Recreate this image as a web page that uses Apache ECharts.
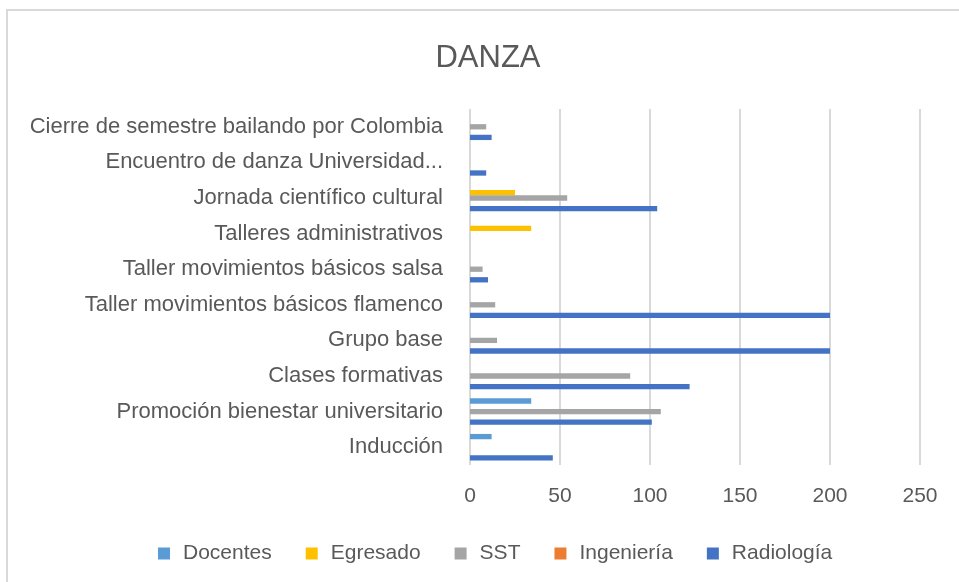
<!DOCTYPE html>
<html>
<head>
<meta charset="utf-8">
<script src="https://cdn.jsdelivr.net/npm/echarts@6/dist/echarts.min.js"></script>
<style>
  html, body { margin: 0; padding: 0; background: #fff; }
  #chart { width: 959px; height: 582px; }
</style>
</head>
<body>
<div id="chart"></div>
<script>
// categorias, de abajo hacia arriba
const categories = [
  'Inducción',
  'Promoción bienestar universitario',
  'Clases formativas',
  'Grupo base',
  'Taller movimientos básicos flamenco',
  'Taller movimientos básicos salsa',
  'Talleres administrativos',
  'Jornada científico cultural',
  'Encuentro de danza Universidad...',
  'Cierre de semestre bailando por Colombia'
];
const docentes   = [12, 34, null, null, null, null, null, null, null, null];
const egresado   = [null, null, null, null, null, null, 34, 25, null, null];
const sst        = [null, 106, 89, 15, 14, 7, null, 54, null, 9];
const ingenieria = [null, null, null, null, null, null, null, null, null, null];
const radiologia = [46, 101, 122, 200, 200, 10, null, 104, 9, 12];
const xTicks = [0, 50, 100, 150, 200, 250];

const legendOrder = ['Docentes', 'Egresado', 'SST', 'Ingeniería', 'Radiología'];
const textColor = '#595959';
const font = 'Liberation Sans';

function bar(name, data, color) {
  return {
    name: name,
    type: 'bar',
    data: data,
    barWidth: 5.3,
    barGap: '0%',
    itemStyle: { color: color },
    emphasis: { disabled: true }
  };
}

const chart = echarts.init(document.getElementById('chart'));
chart.setOption({
  animation: false,
  textStyle: { fontFamily: font },
  title: {
    text: 'DANZA',
    left: 483,
    textAlign: 'center',
    top: 38,
    textStyle: { color: textColor, fontSize: 31, fontWeight: 'normal', fontFamily: font }
  },
  // borde del área del gráfico (solo arriba e izquierda se ven)
  graphic: [{
    type: 'polyline',
    shape: { points: [[7, 600], [7, 10], [980, 10]] },
    style: { fill: 'none', stroke: '#d9d9d9', lineWidth: 2 },
    silent: true
  }],
  legend: {
    data: legendOrder,
    top: 538,
    left: 153,
    itemWidth: 12,
    itemHeight: 12,
    itemGap: 34,
    icon: 'rect',
    textStyle: { color: textColor, fontSize: 21, fontFamily: font, padding: [0, 0, 0, 8] }
  },
  grid: { left: 470, right: 39, top: 109, bottom: 117 },
  xAxis: {
    type: 'value',
    min: 0,
    max: 250,
    interval: 50,
    axisLine: { show: false },
    axisTick: { show: false },
    splitLine: { lineStyle: { color: '#d9d9d9', width: 2 } },
    axisLabel: {
      margin: 21,
      color: textColor,
      fontSize: 21,
      fontFamily: font,
      formatter: v => xTicks.includes(v) ? String(v) : ''
    }
  },
  yAxis: {
    type: 'category',
    data: categories,
    axisLine: { show: false },
    axisTick: { show: false },
    axisLabel: { margin: 27, color: textColor, fontSize: 22, fontFamily: font }
  },
  series: [
    bar('Docentes', docentes, '#5b9bd5'),
    bar('Egresado', egresado, '#ffc000'),
    bar('SST', sst, '#a5a5a5'),
    bar('Ingeniería', ingenieria, '#ed7d31'),
    bar('Radiología', radiologia, '#4472c4')
  ]
});
</script>
</body>
</html>
